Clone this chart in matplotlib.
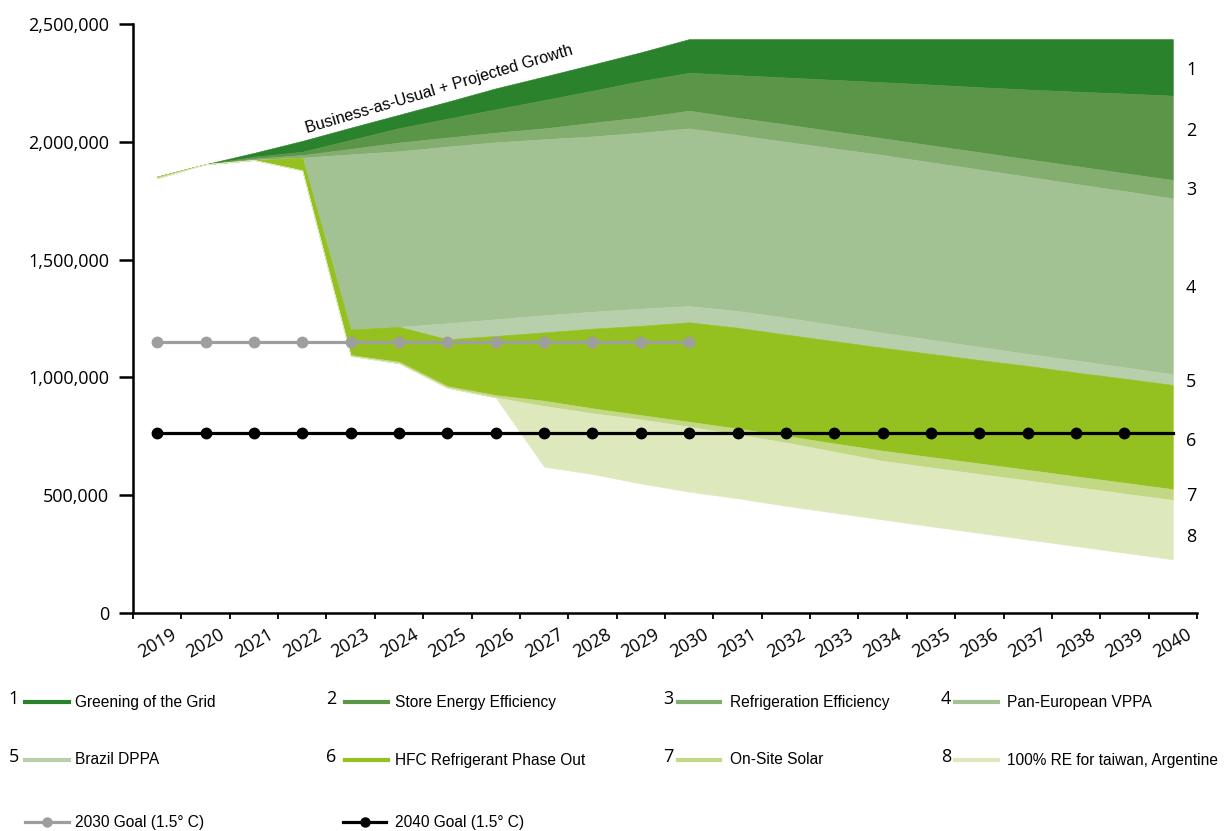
import numpy as np
import matplotlib
matplotlib.use("Agg")
import matplotlib.pyplot as plt
from matplotlib.lines import Line2D
from matplotlib import font_manager
from matplotlib.ticker import FuncFormatter

# ---------------- data ----------------
years = list(range(2019, 2041))

# emission level (tCO2e) after successive reduction levers
bau = [1852000, 1905000, 1953000, 2004000, 2060000, 2115000, 2170000, 2227000, 2277000, 2328000, 2380000,
       2436000, 2436000, 2436000, 2436000, 2436000, 2436000, 2436000, 2436000, 2436000, 2436000, 2436000]
after_grid = [1852000, 1905000, 1937000, 1958000, 2008000, 2058000, 2098000, 2138000, 2177000, 2217000, 2258000,
              2293000, 2283000, 2273000, 2263000, 2253000, 2243000, 2232000, 2222000, 2213000, 2205000, 2196000]
after_store = [1852000, 1905000, 1929000, 1944000, 1970000, 1997000, 2018000, 2039000, 2057000, 2081000, 2104000,
               2132000, 2102000, 2074000, 2044000, 2015000, 1985000, 1956000, 1926000, 1897000, 1867000, 1838000]
after_refrig = [1852000, 1905000, 1923000, 1933000, 1947000, 1960000, 1980000, 1998000, 2011000, 2023000, 2039000,
                2057000, 2029000, 2000000, 1972000, 1944000, 1913000, 1883000, 1852000, 1821000, 1791000, 1760000]
after_vppa = [1852000, 1905000, 1923000, 1933000, 1204000, 1215000, 1230000, 1247000, 1264000, 1279000, 1292000,
              1303000, 1282000, 1254000, 1222000, 1190000, 1160000, 1130000, 1100000, 1072000, 1043000, 1014000]
after_brazil = [1852000, 1905000, 1923000, 1933000, 1204000, 1215000, 1162000, 1176000, 1191000, 1207000, 1219000,
                1234000, 1211000, 1182000, 1154000, 1126000, 1100000, 1074000, 1049000, 1021000, 995000, 968000]
after_hfc = [1852000, 1905000, 1923000, 1880000, 1095000, 1067000, 963000, 925000, 901000, 869000, 840000,
             812000, 783000, 752000, 720000, 689000, 662000, 635000, 608000, 580000, 553000, 526000]
after_solar = [1845000, 1905000, 1923000, 1878000, 1091000, 1060000, 956000, 915000, 879000, 848000, 822000,
               791000, 758000, 724000, 685000, 646000, 618000, 590000, 563000, 535000, 507000, 480000]
after_re100 = [1845000, 1905000, 1923000, 1878000, 1091000, 1060000, 956000, 915000, 621000, 590000, 550000,
               515000, 487000, 455000, 426000, 397000, 368000, 340000, 312000, 284000, 256000, 228000]

goal_2030_years = list(range(2019, 2031))
goal_2030 = [1149000] * len(goal_2030_years)
goal_2040_years = list(range(2019, 2041))
goal_2040 = [763000] * len(goal_2040_years)

lever_names = ["Greening of the Grid", "Store Energy Efficiency", "Refrigeration Efficiency",
               "Pan-European VPPA", "Brazil DPPA", "HFC Refrigerant Phase Out", "On-Site Solar",
               "100% RE for taiwan, Argentine"]
lever_colors = ["#2a822d", "#5b9648", "#84ae70", "#a3c293", "#b8cfac", "#94c11f", "#c2d884", "#dde9bd"]

y_ticks = [0, 500000, 1000000, 1500000, 2000000, 2500000]

# ---------------- fonts ----------------
installed = {f.name for f in font_manager.fontManager.ttflist}
narrow = "Liberation Sans Narrow" if "Liberation Sans Narrow" in installed else "Liberation Sans"
narrow_size = 13.3 if narrow == "Liberation Sans Narrow" else 11.2
tick_font = "Open Sans"

# ---------------- figure ----------------
fig = plt.figure(figsize=(12.28, 8.31), dpi=100)
ax = fig.add_axes([133 / 1228, 1 - 613 / 831, (1197 - 133) / 1228, (613 - 24) / 831])

x = np.arange(len(years))
levels = [bau, after_grid, after_store, after_refrig, after_vppa, after_brazil,
          after_hfc, after_solar, after_re100]
for i, col in enumerate(lever_colors):
    ax.fill_between(x, levels[i + 1], levels[i], facecolor=col, edgecolor=col,
                    linewidth=0.4, zorder=2)

gx30 = [years.index(y) for y in goal_2030_years]
gx40 = [years.index(y) for y in goal_2040_years]
ax.plot(gx30, goal_2030, color="#9e9e9e", lw=2.3, marker="o", ms=7.5, zorder=4)
ax.plot(gx40, goal_2040, color="black", lw=2.3, marker="o", ms=7.5,
        markevery=list(range(len(gx40) - 1)), zorder=5)

# axes styling
ax.set_xlim(-0.5, len(years) - 0.5)
ax.set_ylim(0, 2500000)
for s in ["top", "right"]:
    ax.spines[s].set_visible(False)
for s in ["left", "bottom"]:
    ax.spines[s].set_linewidth(1.8)

ax.set_yticks(y_ticks)
ax.yaxis.set_major_formatter(FuncFormatter(lambda v, p: f"{v:,.0f}"))
ax.tick_params(axis="y", length=10, width=1.8, pad=7, labelsize=13)
for lab in ax.get_yticklabels():
    lab.set_fontfamily(tick_font)

ax.set_xticks(np.arange(-0.5, len(years), 1.0))
ax.set_xticklabels([])
ax.set_xticks(x, minor=True)
ax.set_xticklabels([str(y) for y in years], minor=True, rotation=30, ha="center",
                   fontfamily=tick_font, fontsize=13)
ax.tick_params(axis="x", which="major", length=4, width=1.3)
ax.tick_params(axis="x", which="minor", length=0, pad=9)

# BAU label
ax.text(0.2875, 0.889, "Business-as-Usual + Projected Growth", transform=ax.transAxes,
        rotation=16.5, ha="center", va="center", fontfamily=narrow, fontsize=narrow_size + 0.4)

# right-side lever numbers
right_num_y = [2305000, 2046000, 1795000, 1379000, 980000, 730000, 497000, 323000]
for i, yv in enumerate(right_num_y):
    ax.text(0.9944, yv, str(i + 1), transform=ax.get_yaxis_transform(), ha="center",
            va="center", fontfamily=tick_font, fontsize=13)

# ---------------- legend (manual) ----------------
W, H = 1228, 831
col_num_x = [14, 331, 668, 946]
col_line_x = [(25, 69), (345, 388), (678, 720), (955, 998)]
col_text_x = [75, 395, 730, 1007]
row_y = [702, 760]
for k in range(8):
    r, c = divmod(k, 4)
    yy = 1 - row_y[r] / H
    fig.text(col_num_x[c] / W, 1 - (row_y[r] - 3) / H, str(k + 1), ha="center", va="center",
             fontfamily=tick_font, fontsize=13)
    fig.add_artist(Line2D([col_line_x[c][0] / W, col_line_x[c][1] / W], [yy, yy],
                          transform=fig.transFigure, color=lever_colors[k], lw=3))
    fig.text(col_text_x[c] / W, yy, lever_names[k], ha="left", va="center",
             fontfamily=narrow, fontsize=narrow_size)

goal_rows = [("2030 Goal (1.5° C)", "#9e9e9e", 0), ("2040 Goal (1.5° C)", "black", 1)]
for label, colr, c in goal_rows:
    yy = 1 - 822 / H
    x0, x1 = col_line_x[c][0] - (2 if c == 1 else 0), col_line_x[c][1] - (2 if c == 1 else 0)
    fig.add_artist(Line2D([x0 / W, x1 / W], [yy, yy], transform=fig.transFigure,
                          color=colr, lw=2.3))
    fig.add_artist(Line2D([(x0 + x1) / 2 / W], [yy], transform=fig.transFigure,
                          color=colr, marker="o", ms=6.5, lw=0))
    fig.text(col_text_x[c] / W, yy, label, ha="left", va="center",
             fontfamily=narrow, fontsize=narrow_size)

fig.savefig("out.png", dpi=100)
